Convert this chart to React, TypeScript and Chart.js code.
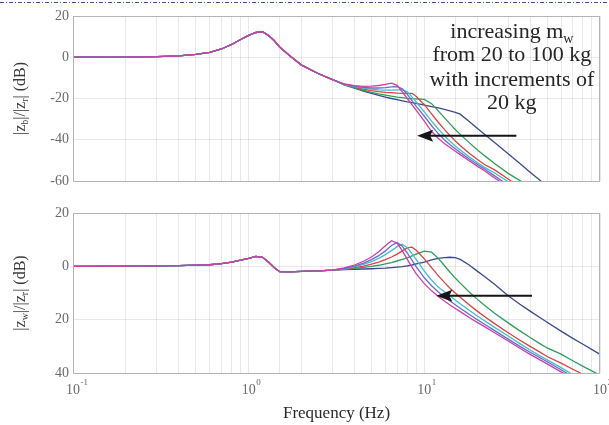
import React, { useEffect, useRef } from 'react';
import { Chart, registerables } from 'chart.js';

Chart.register(...registerables);

const FONT = '"Liberation Serif", "Times New Roman", serif';

// Shared low-frequency part (all curves coincide)
const LOW_FREQ = [0.1, 0.2, 0.3, 0.4, 0.5, 0.6, 0.7, 0.8, 0.9, 1.0, 1.1, 1.2, 1.3, 1.4, 1.5, 1.7, 2.0, 2.5, 3.0];
const TOP_LOW = [0, 0.1, 0.3, 0.7, 1.4, 2.4, 4.0, 6.2, 8.6, 10.6, 12.0, 12.4, 10.5, 8.0, 5.0, 1.0, -3.8, -8.0, -10.8];
const BOTTOM_LOW = [0, 0.05, 0.15, 0.3, 0.45, 0.6, 1.0, 1.6, 2.3, 3.0, 3.7, 3.4, 1.5, -0.5, -2.0, -2.1, -1.9, -1.7, -1.4];

// High-frequency part, one array per curve
const HIGH_FREQ = [3.5, 4, 4.5, 5, 5.5, 6, 6.5, 7, 7.5, 8, 8.5, 9, 10, 11, 12, 13, 14, 15, 16, 18, 20, 22, 25, 30, 35, 40, 45, 50, 60, 70, 80, 100];

const TOP_NAVY = [-13.4, -15.0, -16.4, -17.5, -18.5, -19.3, -20.0, -20.6, -21.1, -21.6, -22.0, -22.4, -23.2, -23.9, -24.6, -25.3, -26.0, -26.7, -27.6, -31.2, -34.4, -37.3, -41.2, -46.8, -51.5, -55.7, -59.3, -62.5, -68.0, -72.5, -76.5, -83.0];
const TOP_GREEN = [-13.3, -14.8, -16.0, -17.0, -17.8, -18.4, -18.9, -19.3, -19.6, -19.9, -20.1, -20.2, -20.4, -22.5, -26.0, -29.3, -32.3, -35.0, -37.4, -41.4, -44.8, -47.7, -51.4, -56.3, -59.8, -63.4, -66.6, -69.4, -74.4, -78.6, -82.2, -88.2];
const TOP_RED = [-13.2, -14.5, -15.5, -16.2, -16.7, -17.0, -17.2, -17.4, -17.5, -17.5, -17.5, -19.0, -23.0, -27.5, -31.5, -35.0, -38.0, -40.6, -42.8, -46.5, -49.5, -52.0, -54.5, -59.0, -63.0, -66.5, -69.7, -72.5, -77.5, -81.5, -85.0, -91.0];
const TOP_CYAN = [-13.1, -14.2, -15.0, -15.5, -15.8, -15.9, -15.9, -15.8, -15.7, -16.8, -19.2, -21.8, -26.5, -31.0, -34.8, -38.0, -40.7, -43.0, -45.0, -48.3, -51.0, -53.4, -56.0, -60.3, -64.3, -67.8, -71.0, -73.5, -78.5, -82.5, -86.0, -92.0];
const TOP_BLUE = [-13.0, -14.0, -14.6, -14.9, -14.9, -14.7, -14.4, -14.2, -15.3, -18.0, -21.0, -23.8, -28.6, -33.2, -37.0, -40.0, -42.4, -44.4, -46.2, -49.3, -51.9, -54.2, -57.4, -62.0, -66.0, -69.5, -72.5, -75.0, -80.0, -84.0, -87.0, -93.0];
const TOP_MAGENTA = [-12.9, -13.8, -14.1, -14.0, -13.7, -13.2, -12.6, -13.6, -16.8, -20.0, -23.0, -25.8, -31.0, -36.0, -39.3, -41.8, -43.8, -45.6, -47.2, -50.2, -52.8, -55.0, -58.4, -63.0, -67.0, -70.5, -73.5, -76.0, -81.0, -85.0, -88.0, -94.0];

const BOTTOM_NAVY = [-1.2, -1.1, -1.0, -0.9, -0.8, -0.7, -0.5, -0.3, -0.1, 0.2, 0.5, 0.9, 1.6, 2.4, 3.0, 3.3, 3.4, 3.3, 2.6, 0.5, -1.8, -3.8, -6.6, -11.0, -14.2, -16.8, -19.0, -21.0, -24.3, -27.0, -29.2, -33.0];
const BOTTOM_GREEN = [-1.1, -0.8, -0.4, 0.0, 0.4, 0.9, 1.4, 2.0, 2.6, 3.2, 3.9, 4.6, 5.7, 5.3, 3.0, 0.3, -2.2, -4.4, -6.3, -9.6, -12.3, -14.6, -17.5, -21.2, -24.2, -26.7, -28.8, -30.6, -32.9, -35.4, -37.5, -40.8];
const BOTTOM_RED = [-1.0, -0.5, 0.1, 0.8, 1.6, 2.5, 3.5, 4.6, 5.8, 6.9, 7.2, 6.0, 2.8, -0.5, -3.5, -6.0, -8.2, -10.0, -11.6, -14.4, -16.8, -18.8, -21.4, -24.9, -27.7, -30.0, -32.0, -33.8, -36.3, -38.6, -40.5, -43.9];
const BOTTOM_CYAN = [-0.9, -0.2, 0.7, 1.8, 3.0, 4.4, 5.9, 7.4, 8.3, 7.0, 4.8, 2.5, -1.8, -5.2, -7.8, -9.5, -11.0, -12.6, -14.0, -16.5, -18.6, -20.4, -22.8, -26.1, -29.0, -31.4, -33.4, -35.1, -38.0, -40.6, -42.8, -46.2];
const BOTTOM_BLUE = [-0.8, 0.1, 1.2, 2.5, 4.0, 5.8, 7.8, 8.9, 7.5, 5.0, 2.3, -0.2, -4.3, -7.3, -9.6, -11.4, -13.0, -14.4, -15.7, -18.0, -20.0, -21.7, -24.0, -27.3, -30.0, -32.2, -34.1, -35.8, -38.8, -41.4, -43.6, -47.1];
const BOTTOM_MAGENTA = [-0.6, 0.5, 1.9, 3.5, 5.5, 7.7, 9.6, 8.7, 5.8, 2.6, -0.3, -2.8, -6.5, -9.2, -11.3, -13.0, -14.5, -15.8, -17.0, -19.2, -21.0, -22.6, -24.8, -28.0, -30.7, -33.0, -34.9, -36.6, -39.6, -42.2, -44.4, -48.0];

// first dataset is drawn on top by Chart.js
const SERIES_COLORS = ['#cf3fa4', '#6a6ad6', '#3cc2c8', '#e0403a', '#2e9e58', '#3b4a8c'];
const TOP_SERIES = [TOP_MAGENTA, TOP_BLUE, TOP_CYAN, TOP_RED, TOP_GREEN, TOP_NAVY];
const BOTTOM_SERIES = [BOTTOM_MAGENTA, BOTTOM_BLUE, BOTTOM_CYAN, BOTTOM_RED, BOTTOM_GREEN, BOTTOM_NAVY];

const X_LABEL_VALUES = [0.1, 1, 10, 100];
const X_LABEL_EXPONENTS = ['-1', '0', '1', '2'];

// Annotation anchors (in data units)
const NOTE_X = 31.5;
const NOTE_Y = [13.2, 1.8, -10.0, -21.5];
const TOP_ARROW = [33.4, 9.1, -38];
const BOTTOM_ARROW = [41, 11.7, -11];

type Part = { t: string; sub?: boolean };

function buildData(low: number[], high: number[]) {
  return LOW_FREQ.map((f, i) => ({ x: f, y: low[i] })).concat(HIGH_FREQ.map((f, i) => ({ x: f, y: high[i] })));
}

function makeDatasets(low: number[], series: number[][]) {
  return series.map((s, i) => ({
    data: buildData(low, s),
    borderColor: SERIES_COLORS[i],
    borderWidth: 1.3,
    pointRadius: 0,
    tension: 0,
    fill: false,
  }));
}

function drawParts(ctx: CanvasRenderingContext2D, parts: Part[], size: number, color: string) {
  const main = `${size}px ${FONT}`;
  const sub = `${Math.round(size * 0.62)}px ${FONT}`;
  let total = 0;
  parts.forEach((p) => {
    ctx.font = p.sub ? sub : main;
    total += ctx.measureText(p.t).width;
  });
  let x = -total / 2;
  ctx.fillStyle = color;
  ctx.textAlign = 'left';
  ctx.textBaseline = 'alphabetic';
  parts.forEach((p) => {
    ctx.font = p.sub ? sub : main;
    ctx.fillText(p.t, x, p.sub ? size * 0.35 + size * 0.22 : size * 0.35);
    x += ctx.measureText(p.t).width;
  });
}

function drawArrow(ctx: CanvasRenderingContext2D, x1: number, x2: number, y: number) {
  ctx.save();
  ctx.strokeStyle = '#151515';
  ctx.fillStyle = '#151515';
  ctx.lineWidth = 2;
  ctx.beginPath();
  ctx.moveTo(x1, y);
  ctx.lineTo(x2 + 10, y);
  ctx.stroke();
  ctx.beginPath();
  ctx.moveTo(x2, y);
  ctx.lineTo(x2 + 16, y - 6);
  ctx.lineTo(x2 + 13, y);
  ctx.lineTo(x2 + 16, y + 6);
  ctx.closePath();
  ctx.fill();
  ctx.restore();
}

function makeBox(yTitle: Part[]) {
  return {
    id: 'boxAndTitle',
    afterDatasetsDraw(chart: any) {
      const { ctx, chartArea: a } = chart;
      ctx.save();
      ctx.strokeStyle = '#b4b4b4';
      ctx.lineWidth = 1;
      ctx.strokeRect(Math.round(a.left) + 0.5, Math.round(a.top) + 0.5, Math.round(a.right - a.left) - 1, Math.round(a.bottom - a.top));
      ctx.restore();
      ctx.save();
      ctx.translate(19, (a.top + a.bottom) / 2);
      ctx.rotate(-Math.PI / 2);
      drawParts(ctx, yTitle, 16, '#3a3a3a');
      ctx.restore();
    },
  };
}

const topExtras = {
  id: 'topExtras',
  afterDraw(chart: any) {
    const { ctx, scales } = chart;
    const x = scales.x;
    const y = scales.y;
    ctx.save();
    ctx.strokeStyle = '#3f5386';
    ctx.lineWidth = 1;
    ctx.setLineDash([4, 2, 1, 2]);
    ctx.beginPath();
    ctx.moveTo(0, 2.5);
    ctx.lineTo(chart.width, 2.5);
    ctx.stroke();
    ctx.restore();
    const lines: Part[][] = [
      [{ t: 'increasing m' }, { t: 'w', sub: true }],
      [{ t: 'from 20 to 100 kg' }],
      [{ t: 'with increments of' }],
      [{ t: '20 kg' }],
    ];
    const cx = x.getPixelForValue(NOTE_X);
    lines.forEach((parts, i) => {
      ctx.save();
      ctx.translate(cx, y.getPixelForValue(NOTE_Y[i]));
      drawParts(ctx, parts, 22, '#262626');
      ctx.restore();
    });
    drawArrow(ctx, x.getPixelForValue(TOP_ARROW[0]), x.getPixelForValue(TOP_ARROW[1]), y.getPixelForValue(TOP_ARROW[2]));
  },
};

const bottomExtras = {
  id: 'bottomExtras',
  afterDraw(chart: any) {
    const { ctx, scales, chartArea: a } = chart;
    const x = scales.x;
    const y = scales.y;
    drawArrow(ctx, x.getPixelForValue(BOTTOM_ARROW[0]), x.getPixelForValue(BOTTOM_ARROW[1]), y.getPixelForValue(BOTTOM_ARROW[2]));
    ctx.save();
    ctx.fillStyle = '#6a6a6a';
    ctx.textAlign = 'left';
    ctx.textBaseline = 'middle';
    X_LABEL_VALUES.forEach((v, i) => {
      const px = x.getPixelForValue(v);
      ctx.font = `14px ${FONT}`;
      const w = ctx.measureText('10').width;
      const ly = a.bottom + 17;
      ctx.fillText('10', px - w / 2, ly);
      ctx.font = `9px ${FONT}`;
      ctx.fillText(X_LABEL_EXPONENTS[i], px + w / 2 + 0.5, ly - 7);
    });
    ctx.restore();
  },
};

const GRID = { color: 'rgba(0,0,0,0.085)', drawTicks: false, lineWidth: 1 };

function baseOptions(yMin: number, yMax: number, padTop: number, xHeight: number, showTitle: boolean, absTicks: boolean): any {
  return {
    responsive: false,
    animation: false,
    layout: { padding: { top: padTop, right: 9, left: 0, bottom: 0 } },
    plugins: { legend: { display: false }, tooltip: { enabled: false } },
    scales: {
      x: {
        type: 'logarithmic',
        min: 0.1,
        max: 100,
        grid: GRID,
        border: { display: false },
        ticks: { display: false, autoSkip: false },
        title: {
          display: showTitle,
          text: 'Frequency (Hz)',
          color: '#2a2a2a',
          font: { family: FONT, size: 17 },
          padding: { top: 0, bottom: 1 },
        },
        afterFit: (s: any) => {
          s.height = xHeight;
        },
      },
      y: {
        min: yMin,
        max: yMax,
        grid: GRID,
        border: { display: false },
        ticks: {
          stepSize: 20,
          color: '#6a6a6a',
          padding: 4,
          font: { family: FONT, size: 14 },
          callback: (v: number) => String(absTicks ? Math.abs(v) : v),
        },
        afterFit: (s: any) => {
          s.width = 73;
        },
      },
    },
  };
}

export default function App() {
  const topRef = useRef<HTMLCanvasElement>(null);
  const bottomRef = useRef<HTMLCanvasElement>(null);

  useEffect(() => {
    document.body.style.margin = '0';
    const top = new Chart(topRef.current as HTMLCanvasElement, {
      type: 'line',
      data: { datasets: makeDatasets(TOP_LOW, TOP_SERIES) as any },
      options: baseOptions(-60, 20, 16, 14, false, false),
      plugins: [makeBox([{ t: '|z' }, { t: 'b', sub: true }, { t: '|/|z' }, { t: 'r', sub: true }, { t: '| (dB)' }]), topExtras],
    });
    const bottom = new Chart(bottomRef.current as HTMLCanvasElement, {
      type: 'line',
      data: { datasets: makeDatasets(BOTTOM_LOW, BOTTOM_SERIES) as any },
      options: baseOptions(-40, 20, 18, 52, true, true),
      plugins: [makeBox([{ t: '|z' }, { t: 'w', sub: true }, { t: '|/|z' }, { t: 'r', sub: true }, { t: '| (dB)' }]), bottomExtras],
    });
    return () => {
      top.destroy();
      bottom.destroy();
    };
  }, []);

  return (
    <div style={{ position: 'absolute', left: 0, top: 0, width: 609, height: 425, background: '#fff', overflow: 'hidden' }}>
      <canvas ref={topRef} width={609} height={195} style={{ position: 'absolute', left: 0, top: 0, width: 609, height: 195 }} />
      <canvas ref={bottomRef} width={609} height={230} style={{ position: 'absolute', left: 0, top: 195, width: 609, height: 230 }} />
    </div>
  );
}
